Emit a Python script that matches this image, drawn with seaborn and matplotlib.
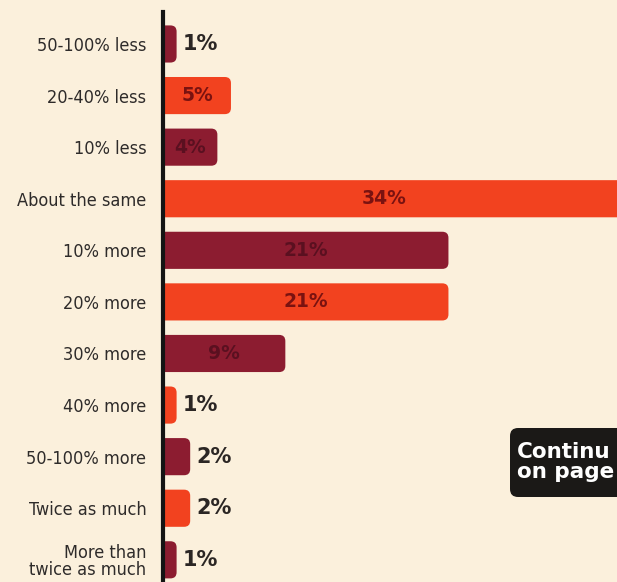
import matplotlib
matplotlib.use("Agg")
import matplotlib.pyplot as plt
import seaborn as sns
from matplotlib.patches import FancyBboxPatch

# answers, top to bottom
labels = ["50-100% less", "20-40% less", "10% less", "About the same",
          "10% more", "20% more", "30% more", "40% more", "50-100% more",
          "Twice as much", "More than\ntwice as much"]
values = [1, 5, 4, 34, 21, 21, 9, 1, 2, 2, 1]

maroon = "#8c1c30"
orange = "#f2421f"
bg = "#fbf0dc"
colors = [maroon if i % 2 == 0 else orange for i in range(len(labels))]

sns.set_style("white")
plt.rcParams["font.family"] = ["DejaVu Sans"]
plt.rcParams["font.stretch"] = "condensed"

fig = plt.figure(figsize=(6.17, 5.82), dpi=100, facecolor=bg)
ax = fig.add_axes([163 / 617, 0, 1 - 163 / 617, (582 - 12) / 582])
ax.set_facecolor(bg)

sns.barplot(x=values, y=labels, hue=labels, palette=colors, legend=False,
            orient="h", width=0.72, saturation=1, ax=ax)

ax.set_xlim(0, 33.4)
ax.set_ylim(10.43, -0.62)

# swap plain bars for rounded ones (left end hidden behind the axis)
r = 0.45
aspect = 13.6 / 51.6
for p in list(ax.patches):
    x0, y0, w, h = p.get_x(), p.get_y(), p.get_width(), p.get_height()
    fb = FancyBboxPatch((x0 - 1, y0), w + 1, h,
                        boxstyle=f"round,pad=0,rounding_size={r}",
                        mutation_aspect=aspect,
                        fc=p.get_facecolor(), ec="none", zorder=2)
    p.remove()
    ax.add_patch(fb)

for i, v in enumerate(values):
    if v >= 4:
        tc = "#5a1020" if colors[i] == maroon else "#7a1210"
        xc = v / 2 if v < 30 else 16.3
        ax.text(xc, i, f"{v}%", ha="center", va="center", fontsize=13.5,
                fontweight="bold", color=tc, fontstretch="normal", zorder=3)
    else:
        ax.text(v + 0.45, i, f"{v}%", ha="left", va="center", fontsize=15,
                fontweight="bold", color="#2b2624", fontstretch="normal", zorder=3)

sns.despine(ax=ax, top=True, right=True, bottom=True, left=False)
ax.spines["left"].set_color("#141414")
ax.spines["left"].set_linewidth(3.0)
ax.spines["left"].set_zorder(4)
ax.set_xticks([])
ax.set_xlabel("")
ax.set_ylabel("")
ax.tick_params(axis="y", length=0, pad=12, labelsize=13, labelcolor="#2e2b2a")
for t in ax.get_yticklabels():
    t.set_multialignment("right")
    t.set_linespacing(0.95)

# black "continued" tab running off the right edge
tab = FancyBboxPatch((510, 582 - 497), 140, 69,
                     boxstyle="round,pad=0,rounding_size=8",
                     transform=None, fc="#1b1917", ec="none")
fig.patches.append(tab)
fig.text(517 / 617, 1 - 462 / 582, "Continu\non page", ha="left", va="center",
         fontsize=15.5, fontweight="bold", color="white", linespacing=1.05,
         fontstretch="normal")

fig.savefig("out.png", dpi=100, facecolor=bg)
